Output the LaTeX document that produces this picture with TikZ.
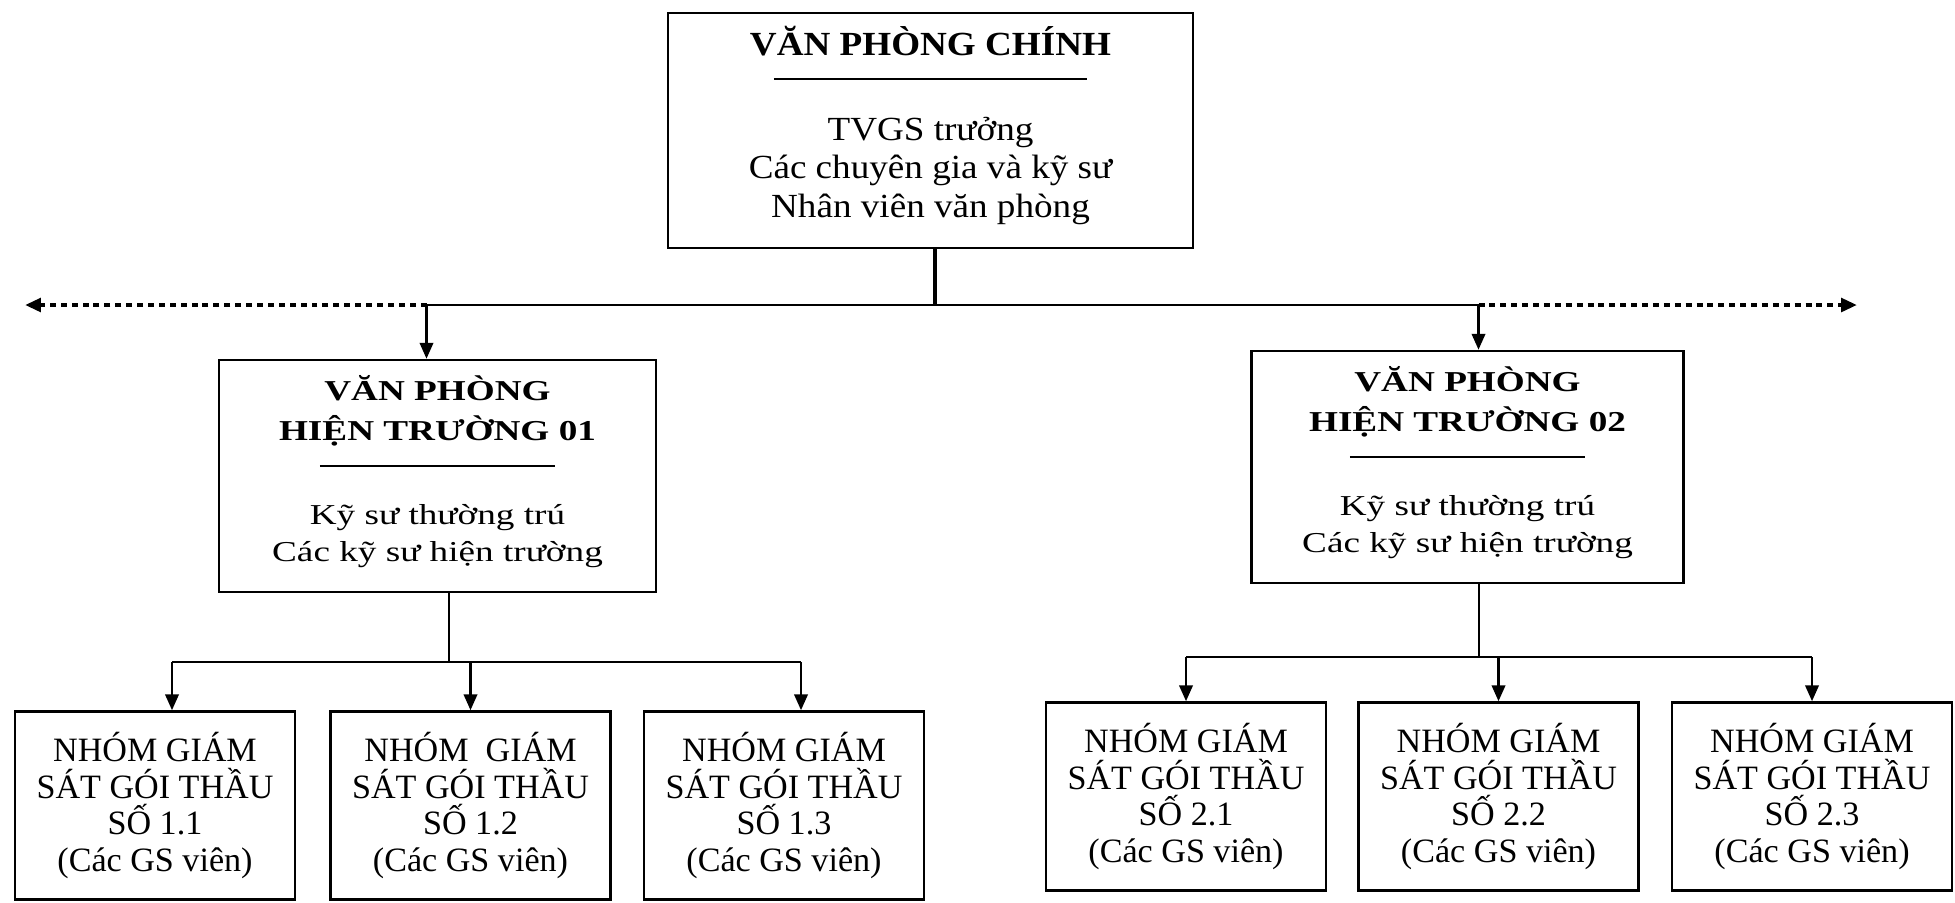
\documentclass[tikz,border=0pt]{standalone}
\usepackage{fontspec}
\setmainfont{Liberation Serif}
\newfontfamily\mainserif{Liberation Serif}[FakeStretch=1.1]
\newfontfamily\wideserif{Liberation Serif}[FakeStretch=1.29]
\usetikzlibrary{calc,arrows.meta,positioning}

\begin{document}
\begin{tikzpicture}[
  x=0.01cm,
  y=-0.01cm,
  line width=0.7pt,
  >={Triangle[length=4.5pt,width=3.8pt]},
  officebox/.style={
    draw,
    rectangle,
    inner sep=0pt,
    minimum width=#1,
    align=center
    },
  mainbox/.style={
    officebox=5.25cm,
    minimum height=2.35cm,
    text depth=5pt,
    font=\mainserif\fontsize{9.6}{11}\selectfont
    },
  fieldbox/.style={
    officebox=#1,
    minimum height=2.32cm,
    text depth=4.5pt,
    font=\wideserif\fontsize{8.2}{10.5}\selectfont
    },
  groupbox/.style={
    officebox=2.8cm,
    minimum height=1.88cm,
    font=\fontsize{9.7}{10.5}\selectfont
    },
  dotline/.style={
    line width=1.2pt,
    dash pattern=on 1.7pt off 1.4pt
  }
]
\useasboundingbox (0,0) rectangle (1955,902);

\node[mainbox]
  (main) at (930.5,130.5)
  {
  \textbf{VĂN PHÒNG CHÍNH}\\[-3.9pt]
  \rule{3.13cm}{0.6pt}\\[6.1pt]
  TVGS trưởng\\
  Các chuyên gia và kỹ sư\\
  Nhân viên văn phòng
  };

\node[fieldbox=4.37cm]
  (vp1) at (437.5,476)
  {
  \textbf{VĂN PHÒNG}\\[0.9pt]
  \textbf{HIỆN TRƯỜNG 01}\\[-2.8pt]
  \rule{2.35cm}{0.6pt}\\[5.7pt]
  Kỹ sư thường trú\\
  Các kỹ sư hiện trường
  };

\node[fieldbox=4.32cm]
  (vp2) at (1467.5,467)
  {
  \textbf{VĂN PHÒNG}\\[0.9pt]
  \textbf{HIỆN TRƯỜNG 02}\\[-2.8pt]
  \rule{2.35cm}{0.6pt}\\[5.7pt]
  Kỹ sư thường trú\\
  Các kỹ sư hiện trường
  };

\foreach \Name/\Xpos/\Ypos/\Head/\So in {g11/155/805.5/{NHÓM GIÁM}/1.1, g12/470.5/805.5/{NHÓM\ \ GIÁM}/1.2, g13/784/805.5/{NHÓM GIÁM}/1.3, g21/1186/796.5/{NHÓM GIÁM}/2.1, g22/1498.5/796.5/{NHÓM GIÁM}/2.2, g23/1812/796.5/{NHÓM GIÁM}/2.3}
\node[groupbox] (\Name) at (\Xpos,\Ypos) {\Head\\SÁT GÓI THẦU\\SỐ \So\\(Các GS viên)};

\coordinate (join) at (935,305);
\coordinate (farleft) at (25,305);
\coordinate (farright) at (1857,305);
\coordinate (join1) at (449,662);
\coordinate (join2) at (1479,657);

% main office to the field offices
\draw [line width=1.3pt] (join |- main.south) -- (join);
\draw ($(vp1.north |- join)+(-11,0)$) -- ($(vp2.north |- join)+(11,0)$);
\draw [->] ($(vp1.north |- join)+(-11,0)$) -- ($(vp1.north)+(-11,0)$);
\draw [->] ($(vp2.north |- join)+(11,0)$) -- ($(vp2.north)+(11,0)$);
\draw [dotline, ->] ($(vp1.north |- join)+(-11,0)$) -- (farleft);
\draw [dotline, ->] ($(vp2.north |- join)+(11,0)$) -- (farright);

% field offices to the groups
\draw (join1 |- vp1.south) -- (join1);
\draw ($(g11.north |- join1)+(17,0)$) -- ($(g13.north |- join1)+(17,0)$);
\foreach \Grp/\Dx in {g11/17, g12/0, g13/17}
\draw [->] ($(\Grp.north |- join1)+(\Dx,0)$) -- ($(\Grp.north)+(\Dx,0)$);

\draw (join2 |- vp2.south) -- (join2);
\draw (g21.north |- join2) -- (g23.north |- join2);
\foreach \Grp in {g21, g22, g23}
\draw [->] (\Grp.north |- join2) -- (\Grp.north);

\end{tikzpicture}
\end{document}
